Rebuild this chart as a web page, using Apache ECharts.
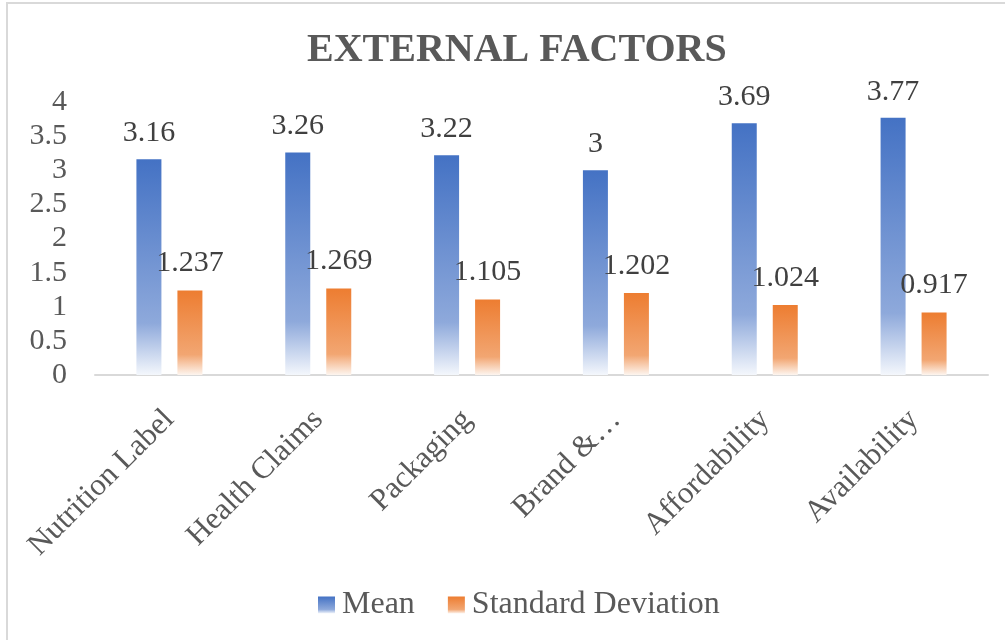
<!DOCTYPE html>
<html>
<head>
<meta charset="utf-8">
<script src="https://cdn.jsdelivr.net/npm/echarts@6/dist/echarts.min.js"></script>
<style>
  html, body { margin: 0; padding: 0; background: #fff; }
  #chart { width: 1005px; height: 640px; }
</style>
</head>
<body>
<div id="chart"></div>
<script>
// Survey results: external factors influencing food choice
const categories = ['Nutrition Label', 'Health Claims', 'Packaging', 'Brand &\u2026', 'Affordability', 'Availability'];
const meanValues = [3.16, 3.26, 3.22, 3, 3.69, 3.77];
const sdValues = [1.237, 1.269, 1.105, 1.202, 1.024, 0.917];
const yTicks = { min: 0, max: 4, interval: 0.5 };

const FONT = '"Liberation Serif", serif';

function fade(top, mid, bottom) {
  return new echarts.graphic.LinearGradient(0, 0, 0, 1, [
    { offset: 0, color: top },
    { offset: 0.76, color: mid },
    { offset: 1, color: bottom }
  ]);
}

const chart = echarts.init(document.getElementById('chart'), null, { renderer: 'canvas' });

chart.setOption({
  animation: false,
  backgroundColor: '#ffffff',
  graphic: [
    {
      type: 'polyline',
      shape: { points: [[7, 660], [7, 3], [1020, 3]] },
      style: { stroke: '#d9d9d9', lineWidth: 2, fill: null },
      silent: true
    }
  ],
  title: {
    text: 'EXTERNAL FACTORS',
    left: 302,
    top: 26,
    textStyle: { fontFamily: FONT, fontSize: 40, fontWeight: 'bold', color: '#595959' }
  },
  legend: {
    top: 584,
    left: 313,
    itemWidth: 17,
    itemHeight: 17,
    itemGap: 33,
    icon: 'rect',
    textStyle: { fontFamily: FONT, fontSize: 32, color: '#595959', padding: [0, 0, 0, 2] },
    data: ['Mean', 'Standard Deviation']
  },
  grid: { left: 95, right: 17, top: 102, bottom: 265, containLabel: false },
  xAxis: {
    type: 'category',
    data: categories,
    axisLine: { lineStyle: { color: '#d9d9d9', width: 2 } },
    axisTick: { show: false },
    axisLabel: {
      rotate: 45,
      interval: 0,
      margin: 40,
      fontFamily: FONT,
      fontSize: 31,
      color: '#595959'
    }
  },
  yAxis: {
    type: 'value',
    min: yTicks.min,
    max: yTicks.max,
    interval: yTicks.interval,
    splitLine: { show: false },
    axisLine: { show: false },
    axisTick: { show: false },
    axisLabel: { margin: 28, fontFamily: FONT, fontSize: 30, color: '#595959' }
  },
  series: [
    {
      name: 'Mean',
      type: 'bar',
      data: meanValues,
      barWidth: 25,
      barGap: '64%',
      itemStyle: { color: fade('#4472c4', '#8ea9db', '#f4f7fc') },
      label: {
        show: true,
        position: 'top',
        distance: 11,
        fontFamily: FONT,
        fontSize: 30,
        color: '#404040'
      }
    },
    {
      name: 'Standard Deviation',
      type: 'bar',
      data: sdValues,
      barWidth: 25,
      itemStyle: { color: fade('#ed7d31', '#f2a672', '#fdf5ef') },
      label: {
        show: true,
        position: 'top',
        distance: 12,
        fontFamily: FONT,
        fontSize: 30,
        color: '#404040'
      }
    }
  ]
});
</script>
</body>
</html>
